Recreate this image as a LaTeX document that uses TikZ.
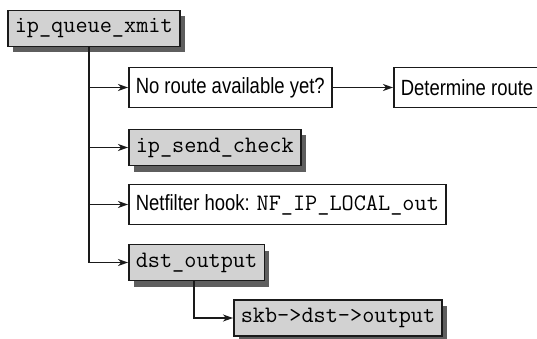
\documentclass[tikz,border=0pt]{standalone}
\usepackage{fontspec}
\newfontfamily\condsans[FakeStretch=0.84]{Liberation Sans}
\usetikzlibrary{arrows.meta,shadows}
\definecolor{boxgray}{HTML}{D2D2D2}
\definecolor{shadowgray}{HTML}{5E5E5E}
\definecolor{linegray}{HTML}{1A1A1A}
\tikzset{
 base/.style={draw=linegray, line width=1.5pt, inner xsep=7pt, inner ysep=0pt, anchor=west},
 codebox/.style={base, fill=boxgray, minimum height=36pt, font=\fontsize{23.6}{26}\selectfont\ttfamily,
   drop shadow={shadow xshift=5pt, shadow yshift=-6pt, fill=shadowgray, opacity=1}},
 textbox/.style={base, fill=white, minimum height=40pt, font=\fontsize{22}{26}\selectfont\condsans},
 conn/.style={draw=linegray, line width=1.3pt, -{Stealth[length=10pt,width=7pt,inset=3pt]}},
 trunk/.style={draw=linegray, line width=2.8pt}
}
\begin{document}
\begin{tikzpicture}[x=1pt,y=-1pt]
\useasboundingbox (0,0) rectangle (537,339);
\node[codebox] (ipq) at (7,28.5) {ip\_queue\_xmit};
\node[textbox] (noroute) at (128,87.5) {No route available yet?};
\node[textbox] (determine) at (393,87.5) {Determine route};
\node[codebox] (send) at (128,147.5) {ip\_send\_check};
\node[textbox] (netf) at (128,204.5) {Netfilter hook: {\fontsize{23.6}{26}\selectfont\ttfamily NF\_IP\_LOCAL\_out}};
\node[codebox] (dst) at (128,262.5) {dst\_output};
\node[codebox] (skb) at (233,318) {skb->dst->output};
\coordinate (tx) at (89,0);
\coordinate (cx) at (194,0);
\draw[trunk] (ipq.south -| tx) -- (tx |- dst.west);
\draw[conn] (tx |- noroute.west) -- (noroute.west);
\draw[conn] (tx |- send.west) -- (send.west);
\draw[conn] (tx |- netf.west) -- (netf.west);
\draw[conn] (tx |- dst.west) -- (dst.west);
\draw[conn] (noroute.east) -- (determine.west);
\draw[conn] (dst.south -| cx) |- (skb.west);
\end{tikzpicture}
\end{document}
